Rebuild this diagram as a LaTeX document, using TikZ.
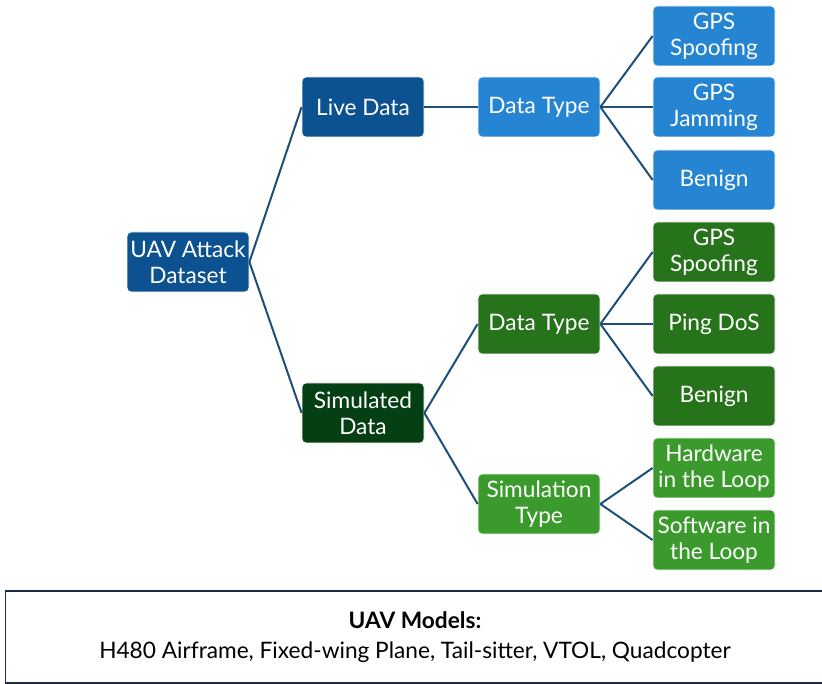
\documentclass[tikz,border=0pt]{standalone}
\usepackage{fontspec}
\setmainfont{Lato}
\newfontfamily\narrowfont{Lato}
\definecolor{cRoot}{HTML}{0C5190}
\definecolor{cLight}{HTML}{2585D3}
\definecolor{cSim}{HTML}{053F14}
\definecolor{cMid}{HTML}{27731C}
\definecolor{cGreen}{HTML}{3A9A2C}
\definecolor{cLine}{HTML}{1F4E79}
\definecolor{cFrame}{HTML}{1C2B40}
\begin{document}
\begin{tikzpicture}[x=0.75pt,y=-0.75pt,
  box/.style={rounded corners=3pt, minimum width=91.5pt, minimum height=45pt,
    inner sep=0pt, text=white, align=center, font=\fontsize{17}{19.5}\selectfont,
    draw=white, line width=0.6pt},
  link/.style={draw=cLine, line width=1.5pt}]
\useasboundingbox (0,0) rectangle (822,684);
\node[box, fill=cRoot] (root) at (188,262) {UAV Attack\\Dataset};
\node[box, fill=cRoot] (live) at (363,107) {Live Data};
\node[box, fill=cSim] (sim) at (363,413) {Simulated\\Data};
\node[box, fill=cLight] (ldt) at (539,107) {Data Type};
\node[box, fill=cLight] (lgs) at (714,36) {GPS\\Spoofing};
\node[box, fill=cLight] (lgj) at (714,107) {GPS\\Jamming};
\node[box, fill=cLight] (lbe) at (714,180) {Benign};
\node[box, fill=cMid] (sdt) at (539,324) {Data Type};
\node[box, fill=cMid] (sgs) at (714,252) {GPS\\Spoofing};
\node[box, fill=cMid] (spd) at (714,324) {Ping DoS};
\node[box, fill=cMid] (sbe) at (714,396) {Benign};
\node[box, fill=cGreen] (sty) at (539,504) {Simulation\\Type};
\node[box, fill=cGreen] (hil) at (714,468) {Hardware\\in the Loop};
\node[box, fill=cGreen] (sil) at (714,540) {Software in\\the Loop};
\draw[link] (root.east) -- (live.west);
\draw[link] (root.east) -- (sim.west);
\draw[link] (live.east) -- (ldt.west);
\draw[link] (ldt.east) -- (lgs.west);
\draw[link] (ldt.east) -- (lgj.west);
\draw[link] (ldt.east) -- (lbe.west);
\draw[link] (sim.east) -- (sdt.west);
\draw[link] (sim.east) -- (sty.west);
\draw[link] (sdt.east) -- (sgs.west);
\draw[link] (sdt.east) -- (spd.west);
\draw[link] (sdt.east) -- (sbe.west);
\draw[link] (sty.east) -- (hil.west);
\draw[link] (sty.east) -- (sil.west);
\node[draw=cFrame, line width=1.2pt, minimum width=614pt, minimum height=69pt,
  inner sep=0pt, align=center, font=\narrowfont\fontsize{17}{22}\selectfont] (models) at (415,637)
  {\textbf{UAV Models:}\\H480 Airframe, Fixed-wing Plane, Tail-sitter, VTOL, Quadcopter};
\end{tikzpicture}
\end{document}
